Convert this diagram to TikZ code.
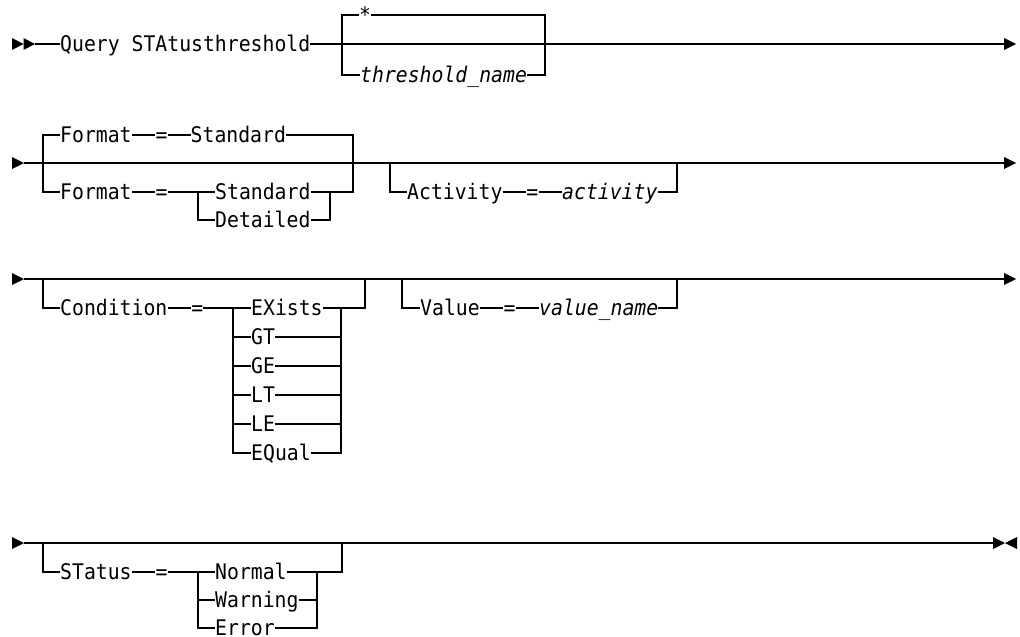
\documentclass[tikz,border=0pt]{standalone}
\usepackage{fontspec}
\newfontfamily\dmono[FakeStretch=0.92]{DejaVu Sans Mono}
\begin{document}
\begin{tikzpicture}[x=1pt,y=-1pt,
  lbl/.style={inner sep=0pt, text height=14pt, text depth=0pt, anchor=west, font=\dmono\fontsize{21.5}{24}\selectfont},
  var/.style={lbl, font=\dmono\fontsize{21.5}{24}\selectfont\itshape},
  rail/.style={line width=1.1pt},
  tipfill/.style={fill=black}]
\useasboundingbox (0,0) rectangle (1020,637);

% ---------- Row 1 ----------
\fill[tipfill] (12,38) -- (23.5,44) -- (12,50) -- cycle;
\fill[tipfill] (23.5,38) -- (35,44) -- (23.5,50) -- cycle;
\coordinate (r1s) at (35,44);
\coordinate (r1e) at (1004,44);
\fill[tipfill] (1004,38) -- (1016,44) -- (1004,50) -- cycle;
\node[lbl] (q) at (60,44) {Query STAtusthreshold};
\node[lbl, text height=15pt] (star) at (359,15) {*};
\node[var] (tn) at (360,75) {threshold\_name};
\draw[rail] (r1s) -- (q.west);
\draw[rail] (q.east) -- (r1e);
\draw[rail] (star.west) -| (342,75) -- (tn.west);
\draw[rail] (star.east) -| (545,75) -- (tn.east);

% ---------- Row 2 ----------
\fill[tipfill] (12,157) -- (24,163) -- (12,169) -- cycle;
\coordinate (r2s) at (24,163);
\coordinate (r2e) at (1004,163);
\fill[tipfill] (1004,157) -- (1016,163) -- (1004,169) -- cycle;
\draw[rail] (r2s) -- (r2e);
\node[lbl] (f1) at (60,135) {Format};
\node[lbl] (e1) at (155.3,135) {=};
\node[lbl] (s1) at (190.5,135) {Standard};
\node[lbl] (f2) at (60,192) {Format};
\node[lbl] (e2) at (155.3,192) {=};
\node[lbl] (std2) at (215,192) {Standard};
\node[lbl] (det) at (215,220) {Detailed};
\draw[rail] (f1.west) -| (43,192) -- (f2.west);
\draw[rail] (f1.east) -- (e1.west);
\draw[rail] (e1.east) -- (s1.west);
\draw[rail] (s1.east) -| (353,192) -- (std2.east);
\draw[rail] (f2.east) -- (e2.west);
\draw[rail] (e2.east) -- (std2.west);
\draw[rail] (198,192) |- (det.west);
\draw[rail] (det.east) -| (330,192);
\node[lbl] (act) at (407,192) {Activity};
\node[lbl] (e3) at (526.2,192) {=};
\node[var] (av) at (562,192) {activity};
\draw[rail] (act.west) -| (390,163);
\draw[rail] (act.east) -- (e3.west);
\draw[rail] (e3.east) -- (av.west);
\draw[rail] (av.east) -| (677,163);

% ---------- Row 3 ----------
\fill[tipfill] (12,273) -- (24,279) -- (12,285) -- cycle;
\coordinate (r3s) at (24,279);
\coordinate (r3e) at (1004,279);
\fill[tipfill] (1004,273) -- (1016,279) -- (1004,285) -- cycle;
\draw[rail] (r3s) -- (r3e);
\node[lbl] (cond) at (60,308) {Condition};
\node[lbl] (e4) at (191.1,308) {=};
\node[lbl] (ex) at (251,308) {EXists};
\node[lbl] (gt) at (251,337) {GT};
\node[lbl] (ge) at (251,366) {GE};
\node[lbl] (lt) at (251,395) {LT};
\node[lbl] (le) at (251,424) {LE};
\node[lbl] (eqv) at (251,453) {EQual};
\draw[rail] (cond.west) -| (43,279);
\draw[rail] (cond.east) -- (e4.west);
\draw[rail] (e4.east) -- (ex.west);
\draw[rail] (233,308) |- (eqv.west);
\foreach \n in {gt,ge,lt,le} \draw[rail] (233,0 |- \n.west) -- (\n.west);
\draw[rail] (ex.east) -| (365,279);
\draw[rail] (341,308) |- (eqv.east);
\foreach \n in {gt,ge,lt,le} \draw[rail] (\n.east) -- (341,0 |- \n.east);
\node[lbl] (val) at (420,308) {Value};
\node[lbl] (e5) at (503.4,308) {=};
\node[var] (vn) at (539,308) {value\_name};
\draw[rail] (val.west) -| (402,279);
\draw[rail] (val.east) -- (e5.west);
\draw[rail] (e5.east) -- (vn.west);
\draw[rail] (vn.east) -| (677,279);

% ---------- Row 4 ----------
\fill[tipfill] (12,537) -- (24,543) -- (12,549) -- cycle;
\coordinate (r4s) at (24,543);
\coordinate (r4e) at (993,543);
\fill[tipfill] (993,537) -- (1005,543) -- (993,549) -- cycle;
\fill[tipfill] (1017,537) -- (1005,543) -- (1017,549) -- cycle;
\draw[rail] (r4s) -- (r4e);
\node[lbl] (st) at (60,572) {STatus};
\node[lbl] (e6) at (155.3,572) {=};
\node[lbl] (nor) at (215,572) {Normal};
\node[lbl] (war) at (215,600) {Warning};
\node[lbl] (err) at (215,628) {Error};
\draw[rail] (st.west) -| (43,543);
\draw[rail] (st.east) -- (e6.west);
\draw[rail] (e6.east) -- (nor.west);
\draw[rail] (198,572) |- (err.west);
\draw[rail] (198,600) -- (war.west);
\draw[rail] (nor.east) -| (342,543);
\draw[rail] (317,572) |- (err.east);
\draw[rail] (war.east) -- (317,600);
\end{tikzpicture}
\end{document}
